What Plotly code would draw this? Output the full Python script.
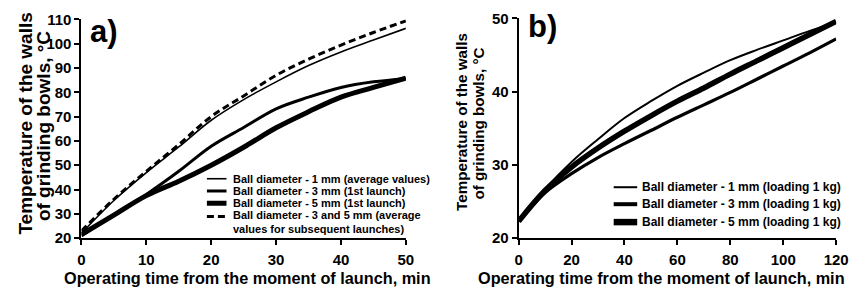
import plotly.graph_objects as go

W, H = 858, 298
FONT = "Liberation Sans, Arial, Helvetica, sans-serif"

# ---------------- Panel a data ----------------
t_a = [0, 5, 10, 15, 20, 25, 30, 35, 40, 45, 50]
a_1mm = [22, 35.5, 47, 57.5, 68.5, 77, 84.3, 91, 96.6, 101.5, 106.3]
a_3mm = [21, 29.6, 38, 47.5, 57.8, 65.5, 73.2, 78, 82, 84.3, 85.6]
a_5mm = [21.5, 29.5, 37.5, 43.4, 50, 57.4, 65.4, 72, 78, 82, 85.8]
a_3_5avg = [23, 36, 47.5, 58.5, 70, 78.5, 87, 93.6, 99.4, 104.6, 109.4]

a_labels = ["Ball diameter - 1 mm (average values)",
            "Ball diameter - 3 mm (1st launch)",
            "Ball diameter - 5 mm (1st launch)",
            "Ball diameter - 3 and 5 mm (average<br>values for subsequent launches)"]
a_xticks = [0, 10, 20, 30, 40, 50]
a_yticks = [20, 30, 40, 50, 60, 70, 80, 90, 100, 110]

# ---------------- Panel b data ----------------
t_b = [0, 10, 20, 30, 40, 50, 60, 70, 80, 90, 100, 110, 120]
b_1mm = [22.3, 26.7, 30.4, 33.5, 36.4, 38.7, 40.8, 42.6, 44.3, 45.7, 47.0, 48.3, 49.5]
b_3mm = [22.3, 26.2, 28.8, 31.0, 32.9, 34.7, 36.5, 38.2, 39.9, 41.7, 43.5, 45.3, 47.2]
b_5mm = [22.3, 26.5, 29.7, 32.3, 34.6, 36.7, 38.7, 40.5, 42.4, 44.2, 46.0, 47.8, 49.6]

b_labels = ["Ball diameter - 1 mm (loading 1 kg)",
            "Ball diameter - 3 mm (loading 1 kg)",
            "Ball diameter - 5 mm (loading 1 kg)"]
b_xticks = [0, 20, 40, 60, 80, 100, 120]
b_yticks = [20, 30, 40, 50]

x_title = "Operating time from the moment of launch, min"
y_title_lines = ["Temperature of the walls", "of grinding bowls, °C"]


def px(x):
    return x / W


def py(y):
    return 1 - y / H


fig = go.Figure()

DASH = "7px,4px"
a_series = [(a_1mm, 1.6, "solid"), (a_3mm, 3, "solid"), (a_5mm, 5, "solid"), (a_3_5avg, 3, DASH)]
for vals, w, d in a_series:
    fig.add_trace(go.Scatter(x=t_a, y=vals, mode="lines", xaxis="x", yaxis="y",
                             line=dict(color="black", width=w, dash=d, shape="spline", smoothing=1),
                             showlegend=False))

b_series = [(b_1mm, 2), (b_3mm, 3.2), (b_5mm, 5.5)]
for vals, w in b_series:
    fig.add_trace(go.Scatter(x=t_b, y=vals, mode="lines", xaxis="x2", yaxis="y2",
                             line=dict(color="black", width=w, shape="spline", smoothing=1),
                             showlegend=False))

axis_common = dict(showline=True, linecolor="black", linewidth=2, ticks="outside",
                   ticklen=5, tickwidth=2, tickcolor="black", showgrid=False, zeroline=False,
                   tickfont=dict(family=FONT, size=15, color="black", weight="bold"))

fig.update_layout(
    width=W, height=H, margin=dict(l=0, r=0, t=0, b=0),
    paper_bgcolor="white", plot_bgcolor="white",
    xaxis=dict(domain=[px(79), px(410)], range=[0, 50], tickvals=a_xticks, anchor="y",
               ticklabelstandoff=2, **axis_common),
    yaxis=dict(domain=[py(243), py(11)], range=[20, 110], tickvals=a_yticks, anchor="x", **axis_common),
    xaxis2=dict(domain=[px(525), px(849)], range=[0, 120], tickvals=b_xticks, anchor="y2",
                ticklabelstandoff=2, **axis_common),
    yaxis2=dict(domain=[py(243), py(10)], range=[20, 50], tickvals=b_yticks, anchor="x2", **axis_common),
)

ann = []
# axis titles
ann.append(dict(text=x_title, x=px(248), y=py(285), font=dict(size=16.25)))
ann.append(dict(text=x_title, x=px(671), y=py(285), font=dict(size=16.25)))
ann.append(dict(text=y_title_lines[0], x=px(21), y=py(122), textangle=-90, font=dict(size=19)))
ann.append(dict(text=y_title_lines[1], x=px(41), y=py(124), textangle=-90, font=dict(size=19)))
ann.append(dict(text=y_title_lines[0], x=px(466), y=py(120), textangle=-90, font=dict(size=15.2)))
ann.append(dict(text=y_title_lines[1], x=px(484), y=py(121), textangle=-90, font=dict(size=15.2)))
# panel labels
ann.append(dict(text="a)", x=px(86), y=py(24), xanchor="left", font=dict(size=31)))
ann.append(dict(text="b)", x=px(533), y=py(19), xanchor="left", font=dict(size=31)))

shapes = []
# legend a
a_rows = [180, 193, 206, 220]
for i, (lab, (vals, w, d)) in enumerate(zip(a_labels, a_series)):
    yy = a_rows[i]
    shapes.append(dict(type="line", xref="paper", yref="paper", x0=px(207), x1=px(227),
                       y0=py(yy), y1=py(yy), line=dict(color="black", width=w, dash=d)))
    ann.append(dict(text=lab, x=px(232), y=py(yy + (6 if "<br>" in lab else 0)), xanchor="left",
                    align="left", font=dict(size=11)))
# legend b
b_rows = [189, 207, 226]
b_sample_w = [2, 4, 6.5]
for i, lab in enumerate(b_labels):
    yy = b_rows[i]
    shapes.append(dict(type="line", xref="paper", yref="paper", x0=px(622), x1=px(646),
                       y0=py(yy), y1=py(yy), line=dict(color="black", width=b_sample_w[i])))
    ann.append(dict(text=lab, x=px(649), y=py(yy), xanchor="left", align="left", font=dict(size=12)))

for a in ann:
    a.setdefault("xanchor", "center")
    a.update(xref="paper", yref="paper", yanchor="middle", showarrow=False)
    a["font"].update(family=FONT, color="black", weight="bold")

fig.update_layout(annotations=ann, shapes=shapes)
fig.write_html("out.html", config={"displayModeBar": False},
               post_script="document.body.style.margin='0px';")
